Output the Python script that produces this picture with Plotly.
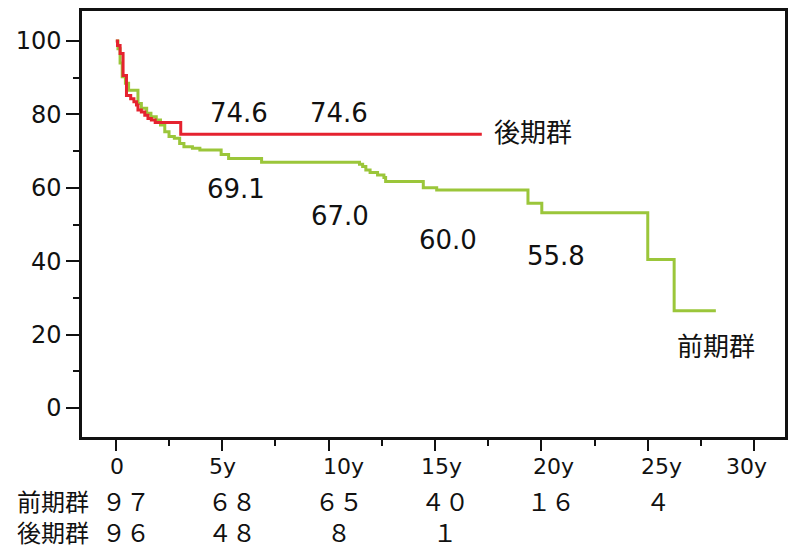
import plotly.graph_objects as go

# Kaplan-Meier step data (years, survival %)
early_t = [0, 0.1, 0.2, 0.3, 0.45, 0.6, 1.04, 1.2, 1.45, 1.65, 1.9, 2.1, 2.3, 2.5,
           2.75, 3.0, 3.2, 3.6, 3.95, 4.95, 5.3, 6.85, 11.45, 11.6, 11.75, 11.95,
           12.3, 12.6, 12.68, 14.45, 15.08, 19.37, 20.02, 25.0, 26.24, 28.2]
early_s = [100, 97.9, 94.0, 90.3, 88.5, 86.6, 83.0, 81.7, 80.3, 79.4, 78.5, 77.1, 75.3, 74.0,
           73.5, 72.1, 71.2, 70.8, 70.3, 69.1, 68.0, 67.0, 66.4, 65.8, 64.9, 64.2,
           63.5, 62.8, 61.7, 60.0, 59.4, 55.8, 53.2, 40.5, 26.5, 26.5]

late_t = [0, 0.08, 0.2, 0.34, 0.5, 0.7, 0.85, 0.97, 1.04, 1.2, 1.36, 1.51, 1.67, 1.85,
          3.05, 17.2]
late_s = [100, 98.8, 96.6, 90.6, 85.2, 84.3, 83.5, 82.6, 81.2, 80.7, 79.8, 78.9, 78.5, 77.8,
          74.6, 74.6]

# survival rates stated on the chart
early_marks_t = [5, 10, 15, 20]
early_marks_v = [69.1, 67.0, 60.0, 55.8]
late_marks_t = [5, 10]
late_marks_v = [74.6, 74.6]

# numbers at risk
risk_years = [0, 5, 10, 15, 20, 25]
risk_early = [97, 68, 65, 40, 16, 4]
risk_late = [96, 48, 8, 1]

x_ticks = [0, 5, 10, 15, 20, 25, 30]
x_tick_text = ["0", "5y", "10y", "15y", "20y", "25y", "30y"]
y_ticks = [0, 20, 40, 60, 80, 100]

group_early = "前期群"
group_late = "後期群"

RED = "#E5222F"
GREEN = "#9BC63A"
INK = "#111"
LAT = "DejaVu Sans, Noto Sans CJK JP, sans-serif"
CJK = "Noto Sans CJK JP, sans-serif"

fig = go.Figure()
fig.add_trace(go.Scatter(x=early_t, y=early_s, mode="lines", line_shape="hv",
                         line=dict(color=GREEN, width=3), name=group_early))
fig.add_trace(go.Scatter(x=late_t, y=late_s, mode="lines", line_shape="hv",
                         line=dict(color=RED, width=3), name=group_late))

ann = []
# value labels placed beside the curves
late_pos = [(5.8, 80.4), (10.5, 80.4)]
for (px, py), v in zip(late_pos, late_marks_v):
    ann.append(dict(x=px, y=py, text=f"{v:.1f}", showarrow=False, yanchor="middle",
                    font=dict(size=26, family=LAT, color=INK)))
early_pos = [(5.66, 59.7), (10.55, 52.3), (15.6, 45.8), (20.7, 41.5)]
for (px, py), v in zip(early_pos, early_marks_v):
    ann.append(dict(x=px, y=py, text=f"{v:.1f}", showarrow=False, yanchor="middle",
                    font=dict(size=26, family=LAT, color=INK)))
ann.append(dict(x=19.6, y=75.5, text=group_late, showarrow=False, yanchor="middle",
                font=dict(size=26, family=CJK, color=INK)))
ann.append(dict(x=28.2, y=17.4, text=group_early, showarrow=False, yanchor="middle",
                font=dict(size=26, family=CJK, color=INK)))

# x tick labels
tick_dx = [1, 0, 15, 7, 12, 14, -8]
for t, s, dx in zip(x_ticks, x_tick_text, tick_dx):
    ann.append(dict(x=t, y=-0.0704, xref="x", yref="paper", text=s, showarrow=False,
                    xshift=dx, yanchor="middle",
                    font=dict(size=22, family=LAT, color=INK)))

# number-at-risk table: one two-line block per column
fw = str.maketrans("0123456789", "０１２３４５６７８９")
TABLE_TOP = -0.1033
ann.append(dict(x=-0.095, y=TABLE_TOP, xref="paper", yref="paper",
                text=f"{group_early}<br>{group_late}", align="left",
                showarrow=False, xanchor="left", yanchor="top",
                font=dict(size=24, family=CJK, color=INK)))
for i, t in enumerate(risk_years):
    lines = [str(c[i]).translate(fw) for c in (risk_early, risk_late) if i < len(c)]
    ann.append(dict(x=t, y=TABLE_TOP, xref="x", yref="paper", text="<br>".join(lines),
                    showarrow=False, xshift=10, yanchor="top", align="center",
                    font=dict(size=24, family=CJK, color=INK)))

fig.update_layout(
    width=796, height=549,
    margin=dict(l=82, r=8, t=11, b=112),
    paper_bgcolor="white", plot_bgcolor="white",
    showlegend=False,
    annotations=ann,
)
fig.update_xaxes(range=[-1.59, 31.45], tickvals=x_ticks, showticklabels=False,
                 ticks="outside", ticklen=11, tickwidth=2, tickcolor=INK,
                 minor=dict(dtick=2.5, tick0=0, ticks="outside", ticklen=6,
                            tickwidth=2, tickcolor=INK),
                 showline=True, linewidth=2.5, linecolor=INK, mirror=True,
                 showgrid=False, zeroline=False)
fig.update_yaxes(range=[-7.9, 108.2], tickvals=y_ticks,
                 ticks="outside", ticklen=13, tickwidth=2, tickcolor=INK,
                 minor=dict(dtick=10, tick0=0, ticks="outside", ticklen=6,
                            tickwidth=2, tickcolor=INK),
                 tickfont=dict(size=24, family=LAT, color=INK),
                 showline=True, linewidth=2.5, linecolor=INK, mirror=True,
                 showgrid=False, zeroline=False)

fig.write_html("out.html")
